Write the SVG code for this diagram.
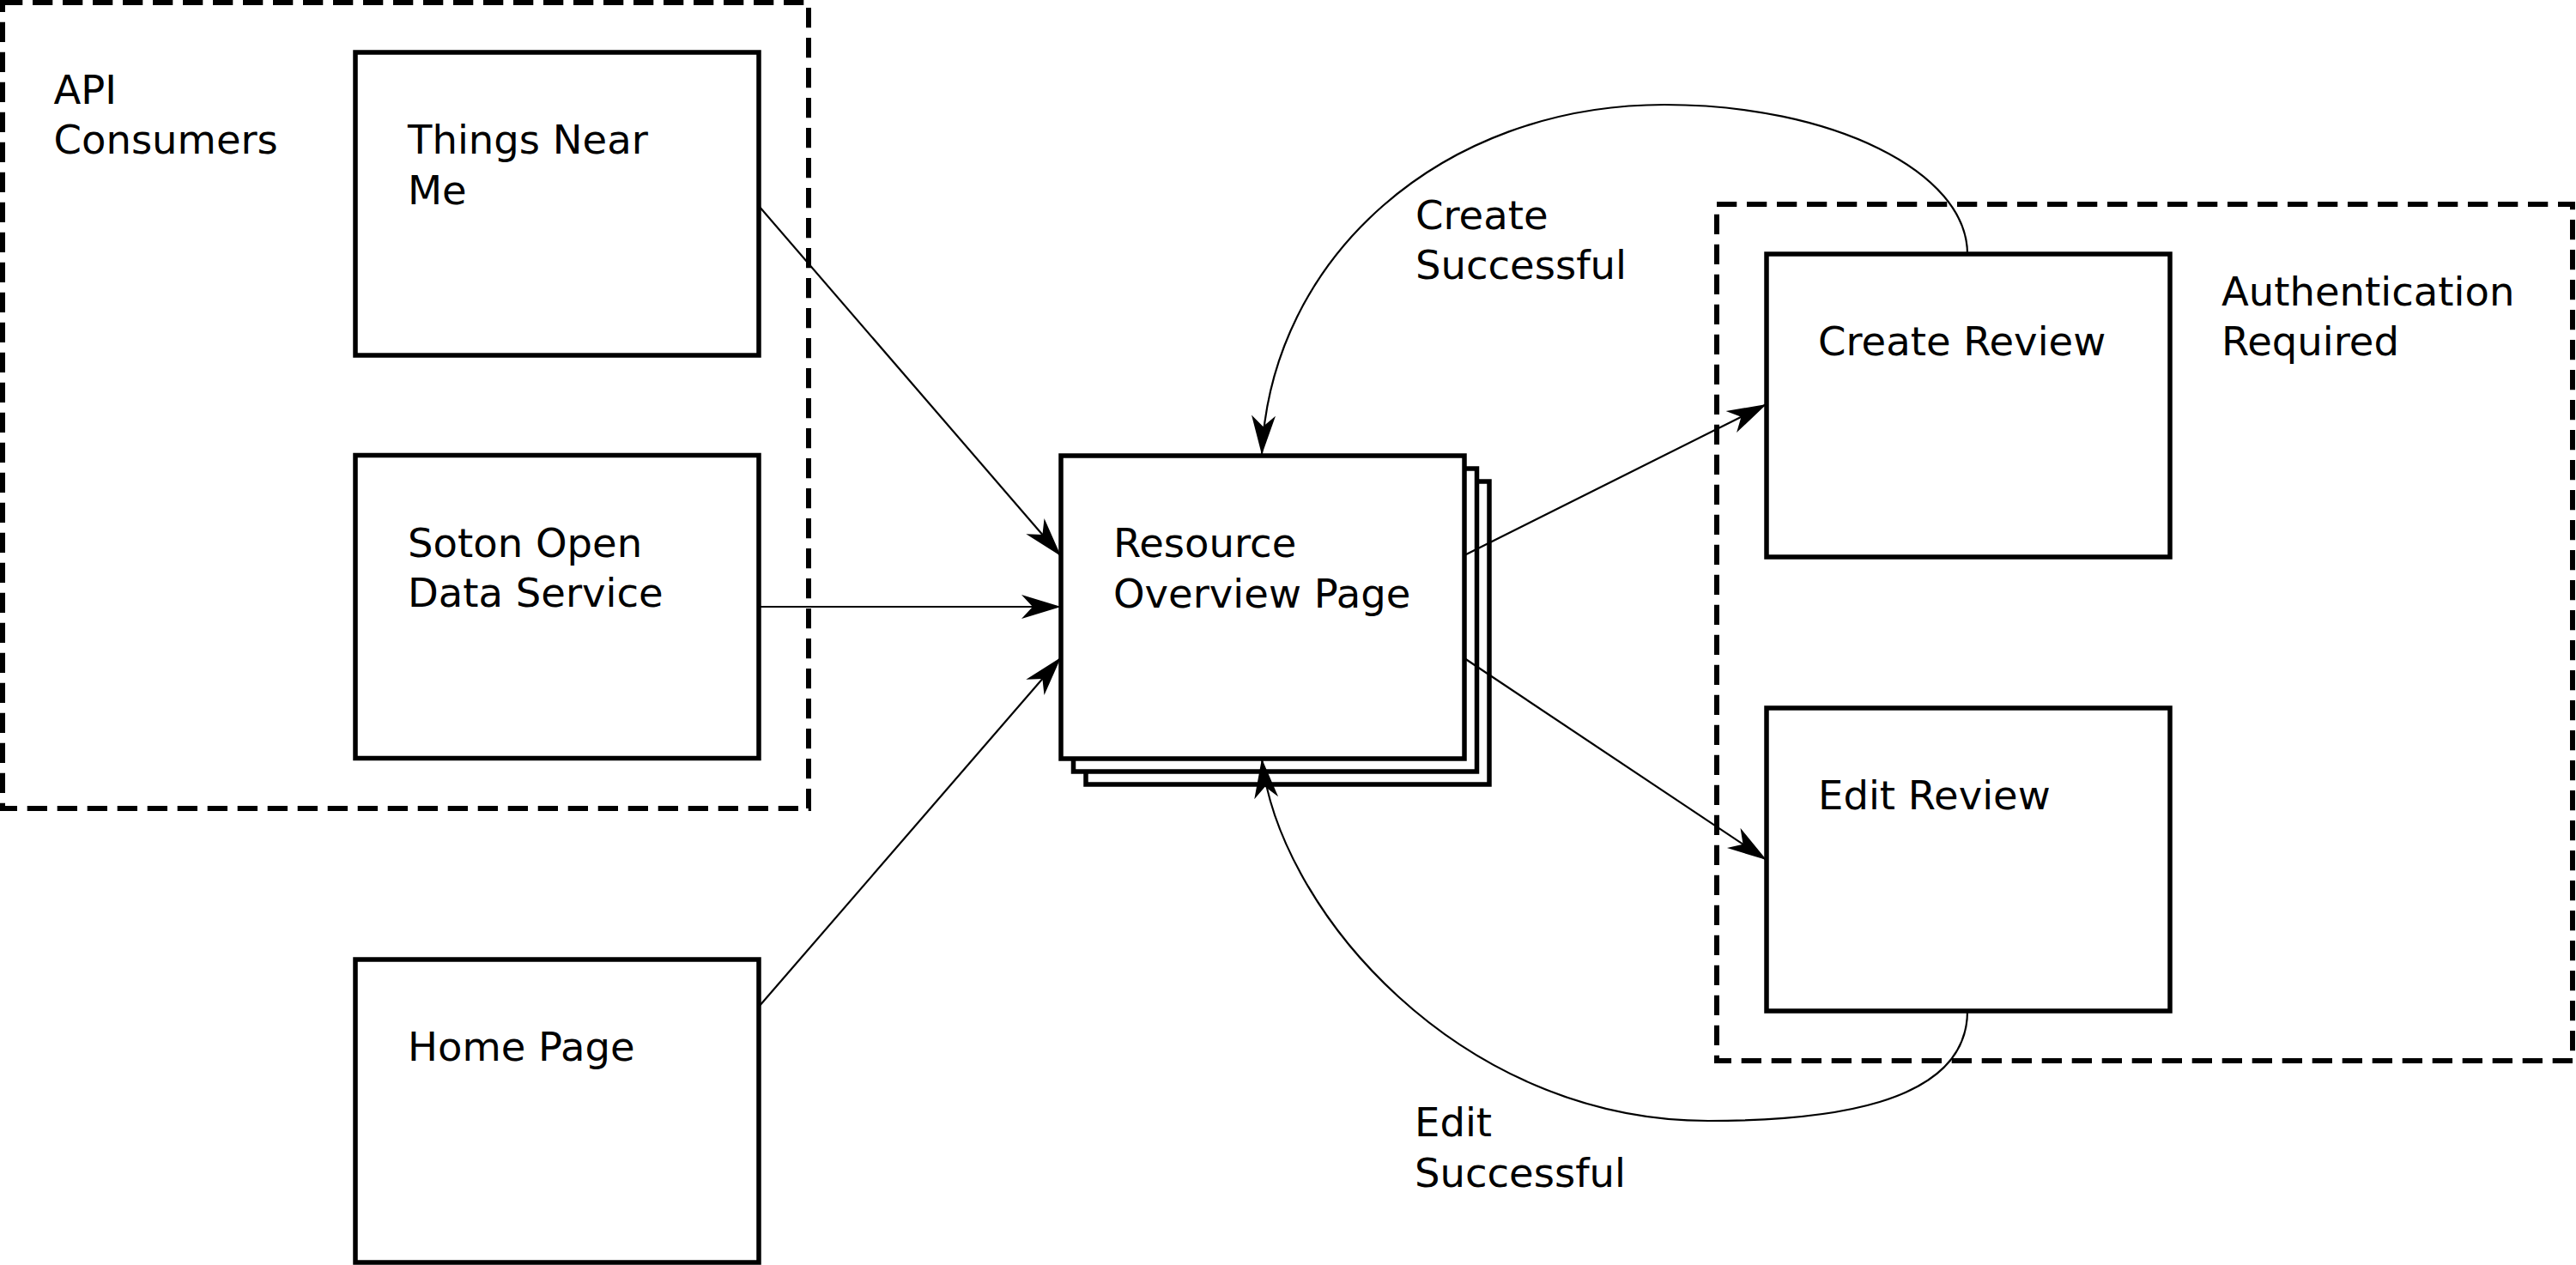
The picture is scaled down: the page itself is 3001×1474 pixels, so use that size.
<svg xmlns="http://www.w3.org/2000/svg" width="3001" height="1474" viewBox="0 0 3001 1474">
  <defs>
    <style>
      .box { fill: #ffffff; stroke: #000000; stroke-width: 5.5; }
      .group { fill: none; stroke: #000000; stroke-width: 6; stroke-dasharray: 23.3 11.7; }
      .conn { fill: none; stroke: #000000; stroke-width: 2.2; }
      .lbl { font-family: "DejaVu Sans", "Liberation Sans", sans-serif; font-size: 46.5px; fill: #000000; }
    </style>
    <marker id="arrow" markerUnits="userSpaceOnUse" viewBox="-50 -16 52 32" markerWidth="52" markerHeight="32" refX="0" refY="0" orient="auto" overflow="visible">
      <path d="M0,0 L-46,-14 L-33,0 L-46,14 Z" fill="#000000"/>
    </marker>
  </defs>
  <rect width="3001" height="1474" fill="#ffffff"/>

  <g id="group-api-consumers">
    <rect class="group" x="3" y="3" width="939" height="939"/>
    <text class="lbl" x="62.5" y="120.6">API</text>
    <text class="lbl" x="62.5" y="179.4">Consumers</text>
  </g>

  <g id="group-authentication">
    <rect class="group" x="2000" y="238" width="997" height="998"/>
    <text class="lbl" x="2588" y="356">Authentication</text>
    <text class="lbl" x="2588" y="414">Required</text>
  </g>

  <g id="node-things-near-me">
    <rect class="box" x="414" y="61" width="470" height="353"/>
    <text class="lbl" x="475" y="179.4">Things Near</text>
    <text class="lbl" x="475" y="237.8">Me</text>
  </g>

  <g id="node-soton-open-data">
    <rect class="box" x="414" y="530.5" width="470" height="353"/>
    <text class="lbl" x="475" y="648.5">Soton Open</text>
    <text class="lbl" x="475" y="707">Data Service</text>
  </g>

  <g id="node-home-page">
    <rect class="box" x="414" y="1118" width="470" height="353"/>
    <text class="lbl" x="475" y="1236">Home Page</text>
  </g>

  <g id="node-resource-overview">
    <rect class="box" x="1265" y="561" width="470" height="353"/>
    <rect class="box" x="1250.5" y="546" width="470" height="353"/>
    <rect class="box" x="1236" y="531" width="470" height="353"/>
    <text class="lbl" x="1297" y="649">Resource</text>
    <text class="lbl" x="1297" y="707.5">Overview Page</text>
  </g>

  <g id="node-create-review">
    <rect class="box" x="2058" y="296" width="470" height="353"/>
    <text class="lbl" x="2118" y="414">Create Review</text>
  </g>

  <g id="node-edit-review">
    <rect class="box" x="2058" y="825" width="470" height="353"/>
    <text class="lbl" x="2118" y="943">Edit Review</text>
  </g>

  <g id="connectors">
    <path class="conn" d="M884,240 L1236,648" marker-end="url(#arrow)"/>
    <path class="conn" d="M884,707 L1236,707" marker-end="url(#arrow)"/>
    <path class="conn" d="M884,1173 L1236,766" marker-end="url(#arrow)"/>
    <path class="conn" d="M1706,647 L2058,471" marker-end="url(#arrow)"/>
    <path class="conn" d="M1706,767 L2058,1002" marker-end="url(#arrow)"/>
    <path class="conn" d="M2292,296 C2292,200 2134,122 1939,122 C1680,122 1480,300 1470,530" marker-end="url(#arrow)"/>
    <path class="conn" d="M2292,1178 C2292,1290 2120,1306 1990,1306 C1700,1306 1490,1060 1470,884" marker-end="url(#arrow)"/>
    <text class="lbl" x="1649" y="266.7">Create</text>
    <text class="lbl" x="1649" y="325">Successful</text>
    <text class="lbl" x="1648" y="1324">Edit</text>
    <text class="lbl" x="1648" y="1382.7">Successful</text>
  </g>
</svg>
